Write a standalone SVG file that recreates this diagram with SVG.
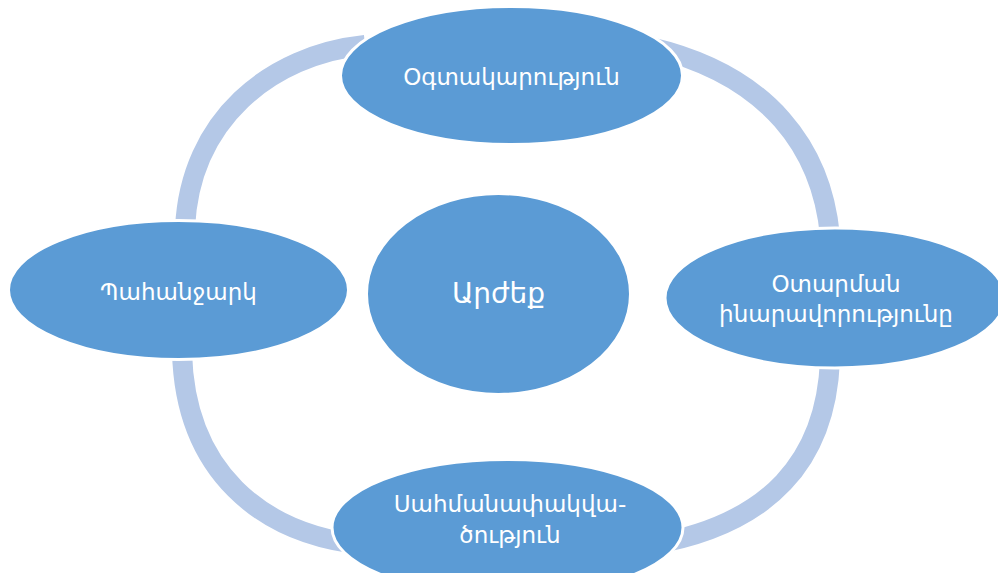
<svg xmlns="http://www.w3.org/2000/svg" width="998" height="573" viewBox="0 0 998 573">
<style>
.ring{fill:none;stroke:#B4C8E7;stroke-width:20;}
.node{fill:#5B9BD5;stroke:#FFFFFF;stroke-width:3;}
.lbl{fill:#FFFFFF;font-family:"DejaVu Sans","Noto Sans",sans-serif;font-size:23px;text-anchor:middle;}
.big{font-size:28px;}
</style>
<rect width="998" height="573" fill="#FFFFFF"/>
<g id="connectors">
<path class="ring" d="M185,228 C190,120 270,55 365,45"/>
<path class="ring" d="M830,236 C822,150 770,75 650,47"/>
<path class="ring" d="M830,360 C826,460 770,525 650,545"/>
<path class="ring" d="M182,352 C185,470 260,535 365,545"/>
</g>
<g id="node-top">
<ellipse class="node" cx="511.5" cy="75.5" rx="171" ry="69"/>
<text class="lbl" x="511.5" y="85">Օգտակարություն</text>
</g>
<g id="node-right">
<ellipse class="node" cx="835" cy="298" rx="170" ry="70"/>
<text class="lbl" x="836" y="292">Օտարման</text>
<text class="lbl" x="836" y="322">ինարավորությունը</text>
</g>
<g id="node-bottom">
<ellipse class="node" cx="507.5" cy="527.5" rx="175.5" ry="68"/>
<text class="lbl" x="510" y="512">Սահմանափակվա-</text>
<text class="lbl" x="510" y="543">ծություն</text>
</g>
<g id="node-left">
<ellipse class="node" cx="178.5" cy="290" rx="170" ry="69.5"/>
<text class="lbl" x="178.5" y="300">Պահանջարկ</text>
</g>
<g id="node-center">
<ellipse class="node" cx="498.5" cy="294" rx="132" ry="100.5"/>
<text class="lbl big" x="498.5" y="303">Արժեք</text>
</g>
</svg>
